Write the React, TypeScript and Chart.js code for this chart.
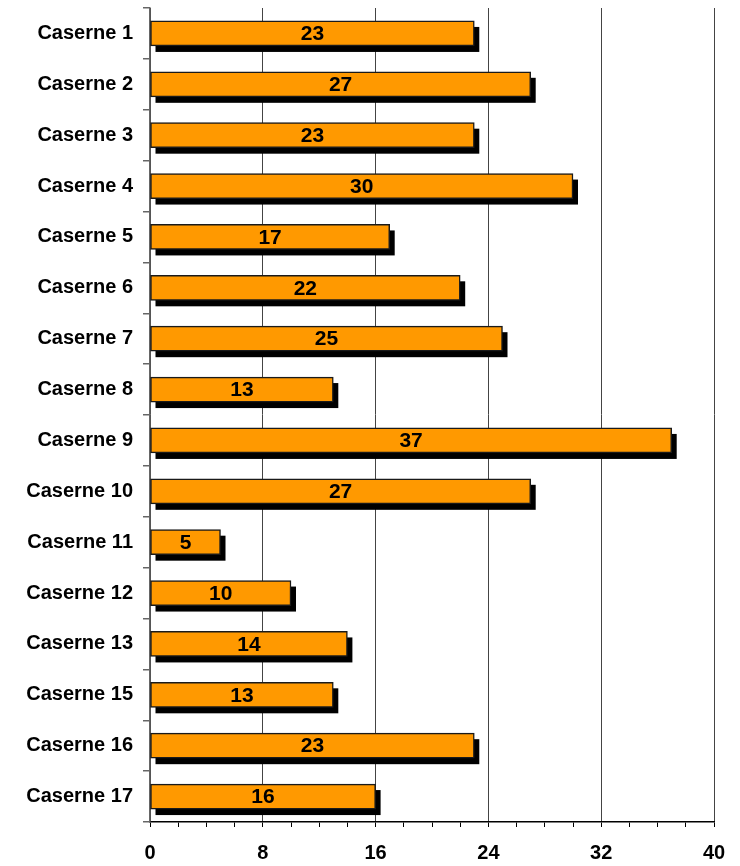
import React, { useEffect, useRef } from "react";
import { Chart, registerables } from "chart.js";

Chart.register(...registerables);

const categories = [
  "Caserne 1", "Caserne 2", "Caserne 3", "Caserne 4", "Caserne 5", "Caserne 6",
  "Caserne 7", "Caserne 8", "Caserne 9", "Caserne 10", "Caserne 11", "Caserne 12",
  "Caserne 13", "Caserne 15", "Caserne 16", "Caserne 17",
];
const values = [23, 27, 23, 30, 17, 22, 25, 13, 37, 27, 5, 10, 14, 13, 23, 16];
const xMin = 0;
const xMax = 40;
const xMajorStep = 8;
const xMinorStep = 2;

const FONT = "'Liberation Sans', Arial, sans-serif";

const shadowPlugin = {
  id: "barShadow",
  beforeDatasetsDraw(chart: any) {
    const ctx = chart.ctx;
    const meta = chart.getDatasetMeta(0);
    ctx.save();
    ctx.fillStyle = "#000000";
    meta.data.forEach((bar: any) => {
      const { x, y, base, height } = bar.getProps(["x", "y", "base", "height"], true);
      const left = Math.min(x, base) + 5;
      const right = Math.max(x, base) + 5;
      ctx.fillRect(left, y - height / 2 + 6, right - left, height);
    });
    ctx.restore();
  },
};

const labelPlugin = {
  id: "barLabels",
  afterDatasetsDraw(chart: any) {
    const ctx = chart.ctx;
    const meta = chart.getDatasetMeta(0);
    const data = chart.data.datasets[0].data;
    ctx.save();
    ctx.fillStyle = "#000000";
    ctx.font = `bold 21px ${FONT}`;
    ctx.textAlign = "center";
    ctx.textBaseline = "middle";
    meta.data.forEach((bar: any, i: number) => {
      const { x, y, base } = bar.getProps(["x", "y", "base"], true);
      ctx.fillText(String(data[i]), (x + base) / 2, y + 1);
    });
    ctx.restore();
  },
};

export default function App() {
  const canvasRef = useRef<HTMLCanvasElement | null>(null);

  useEffect(() => {
    document.body.style.margin = "0";
    const canvas = canvasRef.current;
    if (!canvas) return;
    const chart = new Chart(canvas, {
      type: "bar",
      data: {
        labels: categories,
        datasets: [
          {
            data: values,
            backgroundColor: "#FF9900",
            borderColor: "#1a1a1a",
            borderWidth: 1.5,
            borderSkipped: false,
            barThickness: 25,
          },
        ],
      },
      options: {
        indexAxis: "y",
        animation: false,
        responsive: false,
        maintainAspectRatio: false,
        devicePixelRatio: 1,
        layout: { padding: { top: 8, right: 26, left: 0, bottom: 0 } },
        plugins: {
          legend: { display: false },
          tooltip: { enabled: false },
        },
        scales: {
          x: {
            type: "linear",
            min: xMin,
            max: xMax,
            afterFit: (scale: any) => {
              scale.height = 44;
            },
            ticks: {
              stepSize: xMinorStep,
              autoSkip: false,
              maxRotation: 0,
              padding: 14,
              color: "#000000",
              font: { family: FONT, size: 20, weight: "bold" },
              callback: (v: any) => (Number(v) % xMajorStep === 0 ? String(v) : ""),
            },
            grid: {
              color: (c: any) =>
                c.tick && c.tick.value % xMajorStep === 0 ? "#444444" : "rgba(0,0,0,0)",
              tickColor: "#000000",
              tickLength: 5,
              lineWidth: 1,
            },
            border: { color: "#000000", width: 1.5 },
          },
          y: {
            type: "category",
            afterFit: (scale: any) => {
              scale.width = 150;
              scale.paddingTop = 0;
              scale.paddingBottom = 0;
            },
            ticks: {
              padding: 10,
              color: "#000000",
              font: { family: FONT, size: 20, weight: "bold" },
            },
            grid: {
              offset: true,
              drawOnChartArea: false,
              tickLength: 7,
              tickColor: "#666666",
              lineWidth: 1.5,
            },
            border: { color: "#666666", width: 1.5 },
          },
        },
      },
      plugins: [shadowPlugin, labelPlugin],
    });
    return () => chart.destroy();
  }, []);

  return (
    <div style={{ width: 740, height: 866 }}>
      <canvas ref={canvasRef} width={740} height={866} style={{ width: 740, height: 866, display: "block" }} />
    </div>
  );
}
